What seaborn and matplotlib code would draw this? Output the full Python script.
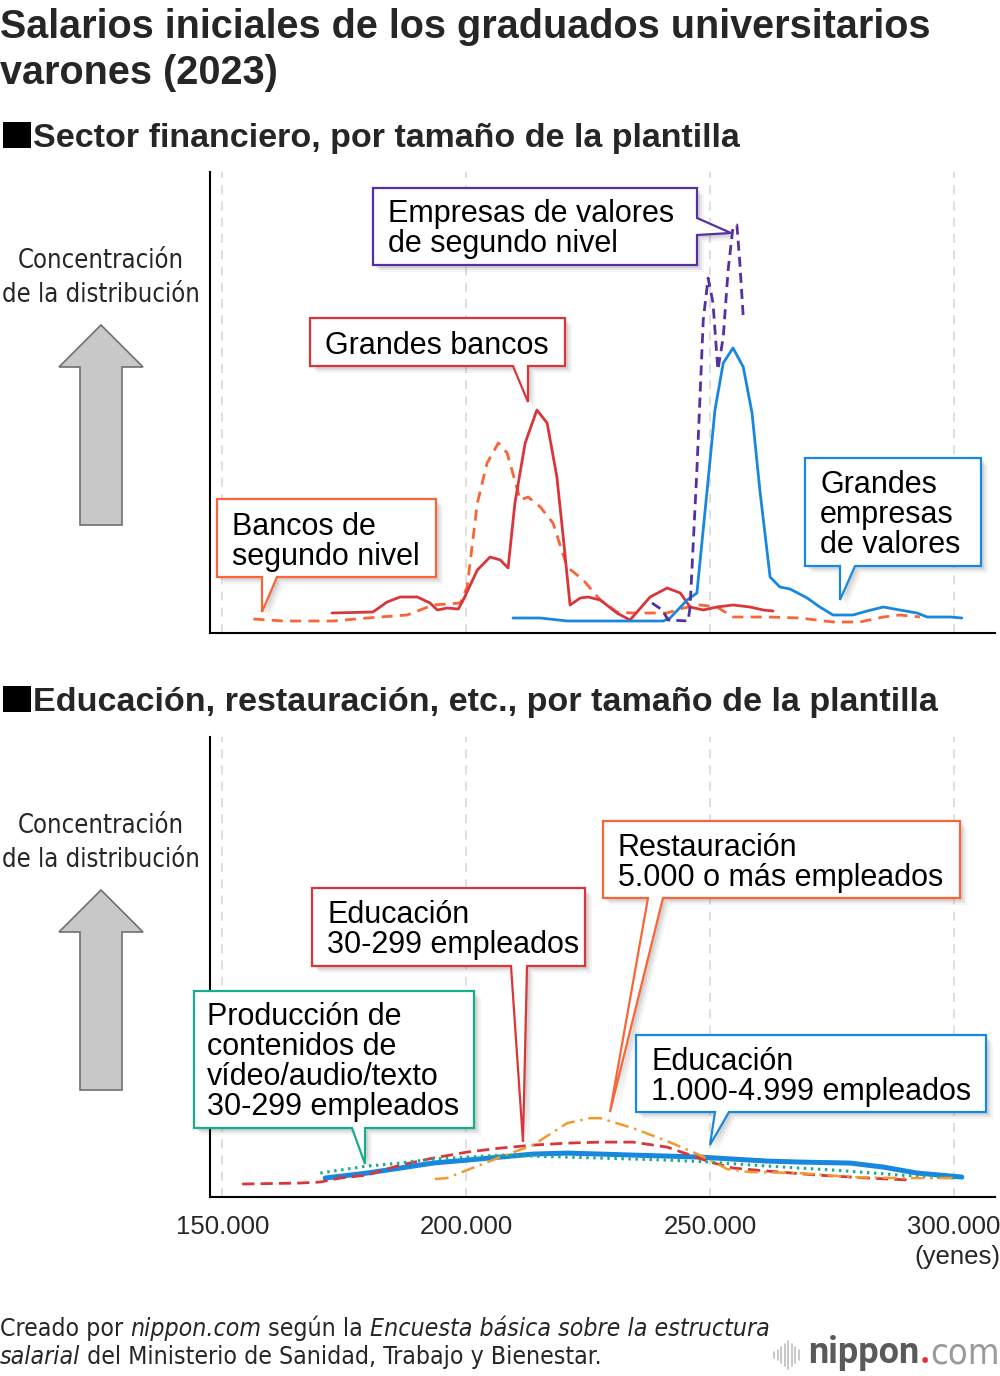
import numpy as np
import pandas as pd
import matplotlib
matplotlib.use("Agg")
import matplotlib.pyplot as plt
from matplotlib.patches import Polygon, Rectangle
from matplotlib import font_manager
from matplotlib.font_manager import FontProperties
import seaborn as sns

# ---------------- data ----------------
x_ticks = [150, 200, 250, 300]
x_tick_labels = ["150.000", "200.000", "250.000", "300.000"]

# Top panel: salary (thousand yen) vs. relative concentration
bancos2_x = [156.4, 162.5, 172.7, 179.7, 187.9, 193.2, 198.8, 200.2, 202.3, 204.3, 206.6, 208.4,
             211.1, 212.7, 215.2, 217.8, 220.7, 224.0, 227.5, 230.9, 234.2, 241.2, 244.5, 248.0,
             251.4, 254.7, 261.7, 268.4, 275.2, 280.7, 285.5, 288.9, 293.0]
bancos2_y = [14, 12, 12, 15, 18, 28, 30, 46, 130, 170, 190, 180,
             133, 136, 126, 110, 66, 53, 33, 21, 20, 20, 25, 28,
             26, 16, 16, 15, 11, 11, 16, 18, 16]

grandes_bancos_x = [172.5, 180.9, 183.8, 186.5, 190.0, 192.6, 194.1, 196.1, 198.4, 199.4, 202.3, 204.9,
                    207.0, 208.6, 210.0, 212.1, 214.5, 216.6, 218.6, 219.9, 221.3, 223.4, 225.0, 227.5,
                    230.9, 233.6, 237.7, 241.2, 243.9, 245.9, 248.6, 251.4, 254.7, 258.2, 260.9, 262.9]
grandes_bancos_y = [20, 21, 31, 36, 36, 30, 23, 25, 24, 33, 63, 76,
                    73, 65, 130, 190, 223, 210, 156, 96, 28, 35, 36, 33,
                    20, 13, 36, 45, 40, 26, 23, 26, 28, 26, 23, 22]

valores_grandes_x = [209.6, 215.2, 220.7, 227.5, 240.4, 241.8, 245.3, 247.3, 249.4, 251.0, 252.7, 254.7,
                     256.8, 258.6, 260.2, 262.3, 264.3, 266.4, 269.9, 272.5, 275.2, 279.3, 282.2, 285.5,
                     288.9, 292.4, 294.5, 299.2, 301.6]
valores_grandes_y = [15, 15, 12, 12, 12, 15, 33, 40, 143, 223, 270, 285,
                     266, 220, 143, 56, 46, 44, 35, 26, 18, 18, 22, 26,
                     23, 20, 16, 16, 15]

valores2_x = [238.1, 240.2, 241.4, 245.5, 245.9, 247.3, 248.6, 249.6, 250.6, 251.6, 252.7, 253.7,
              254.7, 255.5, 256.1, 256.8]
valores2_y = [30, 23, 13, 12, 26, 163, 313, 355, 330, 263, 296, 363,
              406, 408, 370, 316]

# Bottom panel
edu30_x = [154.1, 166.0, 170.1, 174.2, 179.7, 186.5, 193.2, 200.2, 207.0, 213.7, 220.7, 227.5,
           234.2, 241.2, 246.5, 250.0, 254.7, 261.7, 271.9, 282.2, 291.0]
edu30_y = [13, 14, 15, 19, 22, 32, 39, 45, 49, 52, 54, 55,
           55, 50, 41, 35, 29, 26, 22, 19, 17]

rest_x = [193.6, 196.1, 200.2, 207.0, 213.7, 220.7, 225.4, 227.5, 234.2, 241.2, 246.5, 250.0,
          253.5, 258.2, 268.4, 278.7, 288.9, 299.8]
rest_y = [18, 19, 27, 40, 52, 74, 79, 79, 69, 56, 45, 37,
          28, 25, 24, 20, 19, 19]

edu1000_x = [171.1, 179.7, 186.5, 193.2, 200.2, 207.0, 213.7, 220.7, 227.5, 234.2, 241.2, 248.0,
             254.7, 261.7, 268.4, 278.7, 285.5, 292.4, 301.6]
edu1000_y = [19, 24, 29, 34, 37, 40, 43, 44, 43, 42, 41, 40,
             38, 36, 35, 34, 30, 24, 20]

content_x = [170.1, 179.7, 186.5, 193.2, 200.2, 207.0, 213.7, 220.7, 227.5, 241.2, 250.0, 261.7,
             275.2, 288.9, 299.8]
content_y = [24, 31, 34, 38, 40, 42, 41, 40, 39, 37, 35, 31,
             27, 22, 19]

# ---------------- style ----------------
sns.set_style("white")
installed = {f.name for f in font_manager.fontManager.ttflist}
MAIN = "Liberation Sans" if "Liberation Sans" in installed else "DejaVu Sans"
plt.rcParams["font.family"] = [MAIN, "DejaVu Sans"]


def find_condensed(italic=False):
    best = None
    for f in font_manager.fontManager.ttflist:
        fn = f.fname.lower()
        is_it = f.style in ("italic", "oblique")
        if is_it != italic or f.weight not in (400, "normal", "regular"):
            continue
        if "liberationsansnarrow" in fn.replace("-", "").replace("_", ""):
            return f.fname
        if "condensed" in fn and "sans" in fn and "mono" not in fn and "bold" not in fn and "light" not in fn:
            best = best or f.fname
    return best


cond_reg = find_condensed(False)
cond_it = find_condensed(True)


def cfont(size, italic=False, bold=False):
    path = cond_it if italic else cond_reg
    if path and not bold:
        return FontProperties(fname=path, size=size)
    return FontProperties(family=["Roboto", "DejaVu Sans"], size=size,
                          style="italic" if italic else "normal",
                          weight="bold" if bold else "normal")


C_ORANGE_RED = "#fa6436"
C_RED = "#d9363c"
C_BLUE = "#1787e0"
C_PURPLE = "#5530a0"
C_GREEN = "#17ad8a"
C_ORANGE = "#f39a2e"

W, H = 1000, 1376
fig = plt.figure(figsize=(10, 13.76), dpi=100)
fig.patch.set_facecolor("white")


def fx(x):
    return x / W


def fy(y):
    return 1 - y / H


ax1 = fig.add_axes([fx(210), fy(633), 0.785, 461 / H])
ax2 = fig.add_axes([fx(210), fy(1197), 0.785, 460 / H])


def draw(ax, xs, ys, color, lw, ls, z=3):
    df = pd.DataFrame({"salario": xs, "densidad": ys})
    sns.lineplot(data=df, x="salario", y="densidad", ax=ax, color=color, lw=lw,
                 linestyle=ls, estimator=None, sort=False, zorder=z)


draw(ax1, bancos2_x, bancos2_y, C_ORANGE_RED, 2.0, (0, (4.0, 2.6)))
draw(ax1, grandes_bancos_x, grandes_bancos_y, C_RED, 2.0, "-")
draw(ax1, valores_grandes_x, valores_grandes_y, C_BLUE, 2.0, "-")
draw(ax1, valores2_x, valores2_y, C_PURPLE, 2.0, (0, (3.6, 2.2)), z=4)

draw(ax2, edu30_x, edu30_y, C_RED, 2.0, (0, (4.4, 2.2)), z=4)
draw(ax2, rest_x, rest_y, C_ORANGE, 1.8, (0, (5.5, 2.3, 1.0, 2.3)), z=5)
draw(ax2, edu1000_x, edu1000_y, C_BLUE, 3.6, "-", z=3)
draw(ax2, content_x, content_y, C_GREEN, 2.2, (0, (0.8, 1.5)), z=4)

for ax in (ax1, ax2):
    ax.set_xlim(147.5, 308.4)
    ax.set_ylim(0, 461)
    ax.set_xticks(x_ticks)
    ax.set_yticks([])
    ax.set_xlabel("")
    ax.set_ylabel("")
    for s in ["top", "right"]:
        ax.spines[s].set_visible(False)
    for s in ["left", "bottom"]:
        ax.spines[s].set_linewidth(1.5)
        ax.spines[s].set_color("black")
    ax.tick_params(axis="x", direction="out", length=7, width=1.5, color="black",
                   labelsize=18.5, pad=6)
    for t in x_ticks:
        ax.axvline(t, color="#dcdcdc", lw=1.3, ls=(0, (5, 4)), zorder=0)
    ax.set_facecolor("white")
ax1.set_xticklabels([])
ax2.set_xticklabels(x_tick_labels)

renderer = fig.canvas.get_renderer()


def fit(t, target_w):
    w = t.get_window_extent(renderer).width
    t.set_fontsize(t.get_fontsize() * target_w / w)
    return t.get_fontsize()


# ---------------- titles ----------------
t1 = fig.text(fx(0), fy(38), "Salarios iniciales de los graduados universitarios",
              fontsize=25, weight="bold", ha="left", va="baseline")
ts = fit(t1, 930)
fig.text(fx(0), fy(84), "varones (2023)", fontsize=ts, weight="bold", ha="left", va="baseline")

for sq_top, base, txt, end_x in [(122, 147, "Sector financiero, por tamaño de la plantilla", 740),
                                 (686, 711, "Educación, restauración, etc., por tamaño de la plantilla", 936)]:
    fig.add_artist(Rectangle((fx(3), fy(sq_top + 26)), 28 / W, 26 / H, transform=fig.transFigure,
                             fc="black", ec="none"))
    h = fig.text(fx(33), fy(base), txt, fontsize=21, weight="bold", ha="left", va="baseline")
    fit(h, end_x - 33)

# ---------------- left labels and arrows ----------------
for top in (0, 565):
    c1 = fig.text(fx(101), fy(268 + top), "Concentración", fontproperties=cfont(20),
                  ha="center", va="baseline")
    c2 = fig.text(fx(101), fy(302 + top), "de la distribución", fontproperties=cfont(20),
                  ha="center", va="baseline")
    s = fit(c2, 198)
    c1.set_fontsize(s)
    pts = [(101, 325), (143, 367), (122, 367), (122, 525), (80, 525), (80, 367), (59, 367)]
    fig.add_artist(Polygon([(fx(px), fy(py + top)) for px, py in pts], closed=True,
                           transform=fig.transFigure, fc="#c8c8c8", ec="#707070", lw=1.2,
                           joinstyle="miter"))


# ---------------- callouts ----------------
def callout(x0, y0, x1, y1, pointer, color, lines, tx, baselines, fs=22):
    side, b0, b1, px_, py_ = pointer
    if side == "bottom":
        pts = [(x0, y0), (x1, y0), (x1, y1), (b1, y1), (px_, py_), (b0, y1), (x0, y1)]
    else:
        pts = [(x0, y0), (x1, y0), (x1, b0), (px_, py_), (x1, b1), (x1, y1), (x0, y1)]
    for off, a in [(7, 0.04), (5, 0.06), (3, 0.08)]:
        fig.add_artist(Polygon([(fx(p + off), fy(q + off)) for p, q in pts], closed=True,
                               transform=fig.transFigure, fc=(0, 0, 0, a), ec="none", zorder=20))
    fig.add_artist(Polygon([(fx(p), fy(q)) for p, q in pts], closed=True,
                           transform=fig.transFigure, fc="white", ec=color, lw=1.6,
                           zorder=21, joinstyle="miter"))
    for line, b in zip(lines, baselines):
        fig.text(fx(tx), fy(b), line, fontsize=fs, ha="left", va="baseline", zorder=22,
                 color="black")


callout(373, 188, 697, 265, ("right", 218, 235, 731, 233), C_PURPLE,
        ["Empresas de valores", "de segundo nivel"], 388, [222, 252])
callout(310, 318, 565, 366, ("bottom", 513, 528, 528, 402), C_RED,
        ["Grandes bancos"], 325, [354])
callout(217, 499, 436, 577, ("bottom", 262, 277, 262, 612), C_ORANGE_RED,
        ["Bancos de", "segundo nivel"], 232, [535, 565])
callout(805, 458, 981, 566, ("bottom", 840, 855, 840, 600), C_BLUE,
        ["Grandes", "empresas", "de valores"], 820, [493, 523, 553])

callout(603, 821, 960, 898, ("bottom", 648, 663, 610, 1112), C_ORANGE_RED,
        ["Restauración", "5.000 o más empleados"], 618, [856, 886])
callout(312, 888, 585, 966, ("bottom", 511, 527, 523, 1142), C_RED,
        ["Educación", "30-299 empleados"], 327, [923, 953])
callout(194, 991, 474, 1128, ("bottom", 352, 365, 365, 1164), C_GREEN,
        ["Producción de", "contenidos de", "vídeo/audio/texto", "30-299 empleados"], 207,
        [1025, 1055, 1085, 1115])
callout(636, 1035, 986, 1112, ("bottom", 715, 729, 710, 1145), C_BLUE,
        ["Educación", "1.000-4.999 empleados"], 651, [1070, 1100])

# units label
fig.text(fx(1000), fy(1264), "(yenes)", fontsize=18.5, ha="right", va="baseline")


# ---------------- footer ----------------
def rich_line(pieces, x, y, fs):
    cur = x
    out = []
    for txt, italic in pieces:
        t = fig.text(fx(cur), fy(y), txt, fontproperties=cfont(fs, italic=italic),
                     ha="left", va="baseline")
        cur = t.get_window_extent(renderer).x1
        out.append(t)
    return out, cur


line1 = [("Creado por ", False), ("nippon.com", True), (" según la ", False),
         ("Encuesta básica sobre la estructura", True)]
line2 = [("salarial", True), (" del Ministerio de Sanidad, Trabajo y Bienestar.", False)]
fs_f = 17
tmp, end = rich_line(line1, 0, 1336, fs_f)
for t in tmp:
    t.remove()
fs_f = fs_f * 768 / end
rich_line(line1, 0, 1336, fs_f)
rich_line(line2, 0, 1364, fs_f)

# logo
bars = [6, 10, 16, 22, 28, 22, 16, 10]
for i, hgt in enumerate(bars):
    xb = 774 + i * 3.5
    fig.add_artist(plt.Line2D([fx(xb), fx(xb)], [fy(1355 - hgt / 2), fy(1355 + hgt / 2)],
                              transform=fig.transFigure, color="#bdbdbd", lw=1.2))
lg1 = fig.text(fx(808), fy(1363), "nippon", fontproperties=cfont(26, bold=True),
               color="#5a5a5a", ha="left", va="baseline")
e1 = lg1.get_window_extent(renderer).x1
lg2 = fig.text(fx(e1), fy(1363), ".", fontproperties=cfont(26, bold=True),
               color="#e5323b", ha="left", va="baseline")
e2 = lg2.get_window_extent(renderer).x1
lg3 = fig.text(fx(e2), fy(1363), "com", fontproperties=cfont(26),
               color="#9a9a9a", ha="left", va="baseline")

fig.savefig("out.png", dpi=100, facecolor="white")
